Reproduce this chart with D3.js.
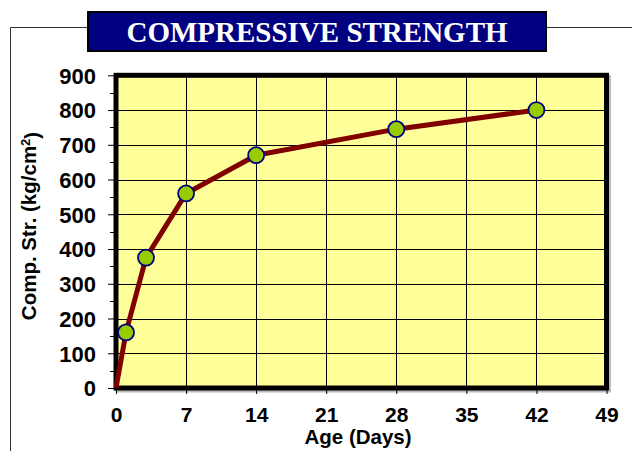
<!DOCTYPE html>
<html>
<head>
<meta charset="utf-8">
<script src="https://cdn.jsdelivr.net/npm/d3@7"></script>
<style>
  html, body { margin: 0; padding: 0; background: #fff; }
  svg { display: block; }
</style>
</head>
<body>
<svg id="chart" width="632" height="451"></svg>
<script>
// data
var ageDays = [0, 1, 3, 7, 14, 28, 42];
var strength = [0, 160, 375, 560, 670, 745, 800];
var xTicks = [0, 7, 14, 21, 28, 35, 42, 49];
var yTicks = [0, 100, 200, 300, 400, 500, 600, 700, 800, 900];
var yMinor = [50, 150, 250, 350, 450, 550, 650, 750, 850];

var svg = d3.select('#chart');

// plot box (window.top is reserved, so use prefixed names)
var plotL = 116, plotR = 606.5, plotT = 75.3, plotB = 388;

var x = d3.scaleLinear().domain([0, 49]).range([plotL, plotR]);
var y = d3.scaleLinear().domain([0, 900]).range([plotB, plotT]);

// outer frame
svg.append('path')
    .attr('d', 'M10.5,451 V27.5 H632')
    .attr('fill', 'none')
    .attr('stroke', '#333')
    .attr('stroke-width', 1);

// title box
svg.append('rect')
    .attr('x', 88).attr('y', 12)
    .attr('width', 458).attr('height', 39)
    .attr('fill', '#000080')
    .attr('stroke', '#000')
    .attr('stroke-width', 2);

svg.append('text')
    .attr('x', 317).attr('y', 42)
    .attr('text-anchor', 'middle')
    .attr('fill', '#fff')
    .style('font-family', '"Liberation Serif", "Times New Roman", serif')
    .style('font-weight', 'bold')
    .style('font-size', '29px')
    .text('COMPRESSIVE STRENGTH');

// plot area shadow + fill
svg.append('rect')
    .attr('x', plotL + 2).attr('y', plotT + 2)
    .attr('width', plotR - plotL).attr('height', plotB - plotT)
    .attr('fill', 'none')
    .attr('stroke', '#bbb')
    .attr('stroke-width', 5);

svg.append('rect')
    .attr('x', plotL).attr('y', plotT)
    .attr('width', plotR - plotL).attr('height', plotB - plotT)
    .attr('fill', '#ffff99');

// grid
svg.append('g')
    .selectAll('line')
    .data(yTicks.slice(1, -1))
    .enter()
    .append('line')
    .attr('x1', plotL).attr('x2', plotR)
    .attr('y1', function(d) { return Math.round(y(d)) + 0.5; })
    .attr('y2', function(d) { return Math.round(y(d)) + 0.5; })
    .attr('stroke', '#000')
    .attr('stroke-width', 1);

svg.append('g')
    .selectAll('line')
    .data(xTicks.slice(1, -1))
    .enter()
    .append('line')
    .attr('y1', plotT).attr('y2', plotB)
    .attr('x1', function(d) { return Math.round(x(d)) + 0.5; })
    .attr('x2', function(d) { return Math.round(x(d)) + 0.5; })
    .attr('stroke', '#000')
    .attr('stroke-width', 1);

// minor y ticks
svg.append('g')
    .selectAll('line')
    .data(yMinor)
    .enter()
    .append('line')
    .attr('x1', plotL - 6).attr('x2', plotL)
    .attr('y1', function(d) { return Math.round(y(d)) + 0.5; })
    .attr('y2', function(d) { return Math.round(y(d)) + 0.5; })
    .attr('stroke', '#000');

// axes
var yAxis = d3.axisLeft(y)
    .tickValues(yTicks)
    .tickSize(8)
    .tickPadding(12);

var xAxis = d3.axisBottom(x)
    .tickValues(xTicks)
    .tickSize(6)
    .tickPadding(12);

var gy = svg.append('g')
    .attr('transform', 'translate(' + plotL + ',0)')
    .call(yAxis);

var gx = svg.append('g')
    .attr('transform', 'translate(0,' + plotB + ')')
    .call(xAxis);

[gx, gy].forEach(function(g) {
    g.select('.domain').remove();
    g.selectAll('.tick line').attr('stroke', '#000');
    g.selectAll('text')
        .attr('fill', '#000')
        .style('font-family', '"Liberation Sans", Arial, sans-serif')
        .style('font-weight', 'bold');
});
gy.selectAll('text').style('font-size', '22px').attr('dy', '0.36em');
gx.selectAll('text').style('font-size', '21px').attr('dy', '0.75em');

// plot border
svg.append('rect')
    .attr('x', plotL).attr('y', plotT)
    .attr('width', plotR - plotL).attr('height', plotB - plotT)
    .attr('fill', 'none')
    .attr('stroke', '#000')
    .attr('stroke-width', 5);

// series line
var line = d3.line()
    .x(function(d, i) { return x(ageDays[i]); })
    .y(function(d) { return y(d); });

svg.append('path')
    .datum(strength)
    .attr('d', line)
    .attr('fill', 'none')
    .attr('stroke', '#800000')
    .attr('stroke-width', 5)
    .attr('stroke-linejoin', 'round');

svg.append('g')
    .selectAll('circle')
    .data(strength.slice(1))
    .enter()
    .append('circle')
    .attr('cx', function(d, i) { return x(ageDays[i + 1]); })
    .attr('cy', function(d) { return y(d); })
    .attr('r', 8)
    .attr('fill', '#99cc00')
    .attr('stroke', '#000080')
    .attr('stroke-width', 1.8);

// axis titles
svg.append('text')
    .attr('x', 358).attr('y', 444)
    .attr('text-anchor', 'middle')
    .style('font-family', '"Liberation Sans", Arial, sans-serif')
    .style('font-weight', 'bold')
    .style('font-size', '20.5px')
    .text('Age (Days)');

var yt = svg.append('text')
    .attr('transform', 'translate(36,226) rotate(-90)')
    .attr('text-anchor', 'middle')
    .style('font-family', '"Liberation Sans", Arial, sans-serif')
    .style('font-weight', 'bold')
    .style('font-size', '20.5px');
yt.append('tspan').text('Comp. Str. (kg/cm');
yt.append('tspan').attr('dy', '-0.45em').style('font-size', '13px').text('2');
yt.append('tspan').attr('dy', '0.45em').text(')');
</script>
</body>
</html>
